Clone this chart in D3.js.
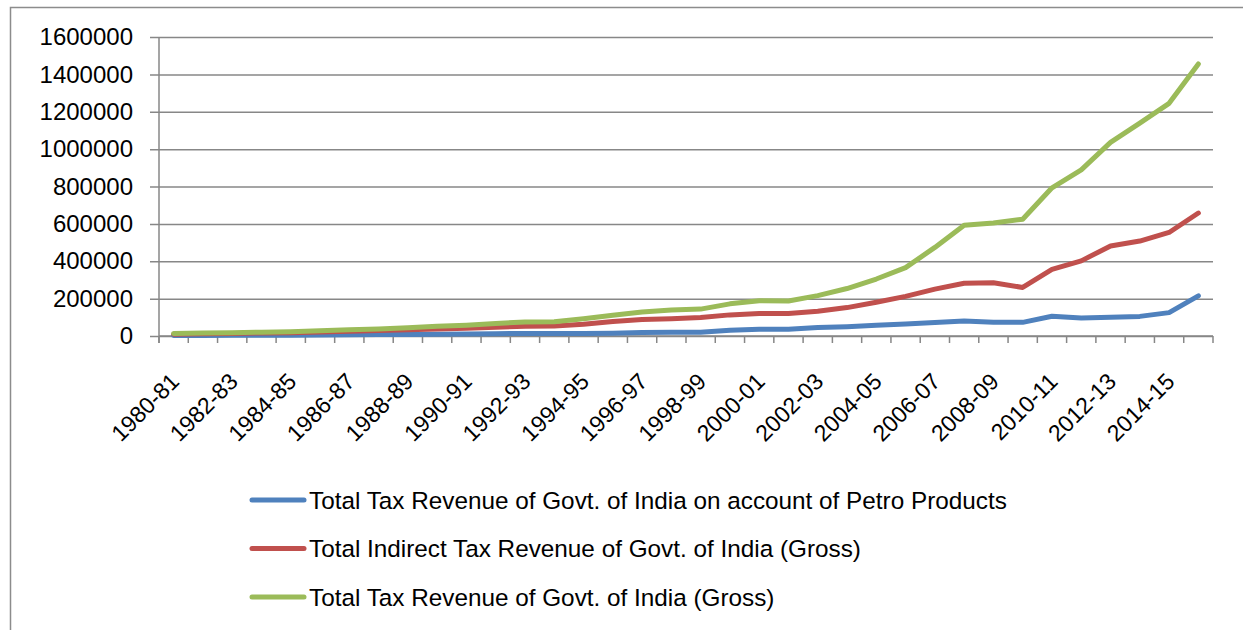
<!DOCTYPE html>
<html>
<head>
<meta charset="utf-8">
<script src="https://cdn.jsdelivr.net/npm/d3@7"></script>
<style>
    body { margin: 0; background: #fff; }
    svg { display: block; font-family: "Liberation Sans", Arial, sans-serif; }
</style>
</head>
<body>
<svg id="chart" width="1243" height="630"></svg>
<script>
const years = [
    "1980-81", "1981-82", "1982-83", "1983-84", "1984-85", "1985-86",
    "1986-87", "1987-88", "1988-89", "1989-90", "1990-91", "1991-92",
    "1992-93", "1993-94", "1994-95", "1995-96", "1996-97", "1997-98",
    "1998-99", "1999-00", "2000-01", "2001-02", "2002-03", "2003-04",
    "2004-05", "2005-06", "2006-07", "2007-08", "2008-09", "2009-10",
    "2010-11", "2011-12", "2012-13", "2013-14", "2014-15", "2015-16"
];

const petroRevenue = [
    2500, 3000, 3500, 4000, 4500, 5500, 6500, 7500, 8500, 9500, 11000, 12500,
    13500, 13500, 14000, 15000, 19000, 20000, 20000, 31000, 36000, 36000,
    45000, 50000, 58000, 64000, 72000, 80000, 73000, 73000, 106000, 96000,
    100000, 105000, 125000, 215000
];

const indirectRevenue = [
    10000, 12000, 14000, 16000, 18000, 22000, 25000, 29000, 33000, 38000,
    42000, 47000, 52000, 53000, 63000, 77000, 88000, 92000, 99000, 113000,
    121000, 120000, 133000, 152000, 181000, 212000, 251000, 282000, 285000,
    260000, 356000, 402000, 482000, 508000, 554000, 658000
];

const totalRevenue = [
    13000, 16000, 18000, 20000, 23000, 28000, 33000, 38000, 44000, 52000,
    58000, 67000, 75000, 76000, 92000, 111000, 129000, 139000, 144000,
    172000, 189000, 187000, 216000, 254000, 305000, 366000, 474000, 593000,
    605000, 625000, 793000, 889000, 1036000, 1139000, 1245000, 1456000
];

const seriesNames = [
    "Total Tax Revenue of Govt. of India on account of Petro Products",
    "Total Indirect Tax Revenue of Govt. of India (Gross)",
    "Total Tax Revenue of Govt. of India (Gross)"
];

const seriesColors = ["#4f81bd", "#c0504d", "#9bbb59"];

const yTicks = [0, 200000, 400000, 600000, 800000, 1000000, 1200000, 1400000, 1600000];

const svg = d3.select("#chart");
const margin = { left: 159, right: 1213, top: 37, bottom: 336 };

// outer chart frame (only top and left edges are visible)
svg.append("rect")
    .attr("x", 10.5)
    .attr("y", 7.5)
    .attr("width", 1400)
    .attr("height", 800)
    .attr("fill", "none")
    .attr("stroke", "#8c8c8c")
    .attr("stroke-width", 1.5);

const x = d3.scaleBand()
    .domain(years)
    .range([margin.left, margin.right]);

const y = d3.scaleLinear()
    .domain([0, 1600000])
    .range([margin.bottom, margin.top]);

// gridlines + y labels
const yAxis = d3.axisLeft(y)
    .tickValues(yTicks)
    .tickFormat(d3.format("d"))
    .tickSize(-(margin.right - margin.left))
    .tickPadding(26);

svg.append("g")
    .attr("transform", `translate(${margin.left},0)`)
    .call(yAxis)
    .call((g) => g.select(".domain").remove())
    .call((g) => g.selectAll(".tick line")
        .attr("x1", -9)
        .attr("stroke", "#878787")
        .attr("stroke-width", 1.5))
    .call((g) => g.selectAll(".tick text")
        .attr("fill", "#000")
        .attr("font-size", 24)
        .attr("font-family", "Liberation Sans, Arial, sans-serif"));

// y axis line
svg.append("line")
    .attr("x1", margin.left)
    .attr("x2", margin.left)
    .attr("y1", margin.top)
    .attr("y2", margin.bottom + 7)
    .attr("stroke", "#878787")
    .attr("stroke-width", 1.5);

// x axis with ticks between categories
const boundaries = years.map((d) => x(d)).concat([margin.right]);

svg.append("line")
    .attr("x1", margin.left)
    .attr("x2", margin.right)
    .attr("y1", margin.bottom)
    .attr("y2", margin.bottom)
    .attr("stroke", "#878787")
    .attr("stroke-width", 1.5);

svg.append("g")
    .selectAll("line")
    .data(boundaries)
    .enter()
    .append("line")
    .attr("x1", (d) => d)
    .attr("x2", (d) => d)
    .attr("y1", margin.bottom)
    .attr("y2", margin.bottom + 7)
    .attr("stroke", "#878787")
    .attr("stroke-width", 1.5);

svg.append("g")
    .selectAll("text")
    .data(years.filter((d, i) => i % 2 === 0))
    .enter()
    .append("text")
    .attr("transform", (d) => `translate(${x(d) + x.bandwidth() / 2 + 7},${margin.bottom + 47}) rotate(-45)`)
    .attr("text-anchor", "end")
    .attr("font-size", 23)
    .attr("fill", "#000")
    .text((d) => d);

// lines
const seriesData = [petroRevenue, indirectRevenue, totalRevenue];

const line = d3.line()
    .x((d, i) => x(years[i]) + x.bandwidth() / 2)
    .y((d) => y(d));

svg.append("g")
    .selectAll("path")
    .data(seriesData)
    .enter()
    .append("path")
    .attr("d", line)
    .attr("fill", "none")
    .attr("stroke", (d, i) => seriesColors[i])
    .attr("stroke-width", 5)
    .attr("stroke-linejoin", "round")
    .attr("stroke-linecap", "round");

// legend
const legend = svg.append("g")
    .selectAll("g")
    .data(seriesNames)
    .enter()
    .append("g")
    .attr("transform", (d, i) => `translate(252,${500 + i * 48.5})`);

legend.append("line")
    .attr("x1", 0)
    .attr("x2", 52)
    .attr("stroke", (d, i) => seriesColors[i])
    .attr("stroke-width", 5)
    .attr("stroke-linecap", "round");

legend.append("text")
    .attr("x", 57)
    .attr("dy", "0.35em")
    .attr("font-size", 24.3)
    .attr("fill", "#000")
    .text((d) => d);
</script>
</body>
</html>
